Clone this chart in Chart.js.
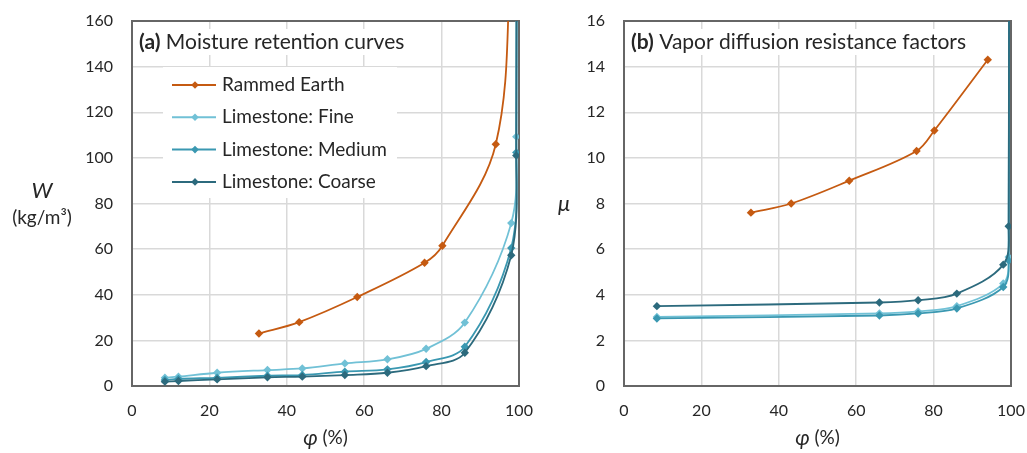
<!DOCTYPE html>
<html>
<head>
<meta charset="utf-8">
<script src="https://cdn.jsdelivr.net/npm/chart.js@4/dist/chart.umd.min.js"></script>
<style>
  html, body { margin: 0; padding: 0; background: #fff; overflow: hidden; }
  #wrap { position: relative; width: 1027px; height: 453px; }
  #chartA { position: absolute; left: 0; top: 0; }
  #chartB { position: absolute; left: 545px; top: 0; }
</style>
</head>
<body>
<div id="wrap">
  <canvas id="chartA" width="545" height="453"></canvas>
  <canvas id="chartB" width="482" height="453"></canvas>
</div>
<script>
// series names + colours
const seriesNames = ['Rammed Earth', 'Limestone: Fine', 'Limestone: Medium', 'Limestone: Coarse'];
const seriesColors = ['#C55A11', '#71C1D6', '#3A98B1', '#2C6A7D'];

// tick labels
const phiTicks = [0, 20, 40, 60, 80, 100];
const wTicks = [0, 20, 40, 60, 80, 100, 120, 140, 160];
const muTicks = [0, 2, 4, 6, 8, 10, 12, 14, 16];

// (a) moisture retention: phi (%) -> W (kg/m3)
// last values run off the top of the plot (clipped)
const earthPhiA = [32.8, 43.2, 58.2, 75.6, 80.2, 94.0, 98.0];
const earthW    = [23.0, 28.0, 39.0, 54.0, 61.5, 106, 190];
const limePhiA  = [8.5, 12, 22, 35, 44, 55, 66, 76, 86, 98, 99.3, 100];
const fineW     = [3.6, 4.1, 5.8, 7.0, 7.7, 9.9, 11.7, 16.3, 27.8, 71.4, 109.3, 1000];
const mediumW   = [2.6, 3.1, 3.6, 4.5, 4.8, 6.3, 7.3, 10.5, 17.2, 60.5, 102.4, 1000];
const coarseW   = [1.9, 2.2, 2.9, 3.8, 4.1, 4.8, 5.8, 8.7, 14.6, 57.3, 101.0, 1000];

// (b) vapor diffusion resistance factor: phi (%) -> mu
const earthPhiB = [32.8, 43.2, 58.2, 75.6, 80.2, 94.0];
const earthMu   = [7.6, 8.0, 9.0, 10.3, 11.2, 14.3];
const limePhiB  = [8.5, 66, 76, 86, 98, 99.4, 100];
const fineMu    = [3.03, 3.18, 3.27, 3.50, 4.49, 5.65, 100];
const mediumMu  = [2.96, 3.09, 3.18, 3.40, 4.34, 5.50, 100];
const coarseMu  = [3.50, 3.66, 3.76, 4.05, 5.32, 7.00, 100];

const FONT = 'Lato, "Open Sans", sans-serif';
const INK = '#262626';
Chart.defaults.font.family = FONT;
Chart.defaults.color = INK;

function pts(xs, ys) {
  return xs.map((x, i) => ({ x: x, y: ys[i] }));
}

function ds(idx, xs, ys) {
  return {
    label: seriesNames[idx],
    data: pts(xs, ys),
    borderColor: seriesColors[idx],
    backgroundColor: seriesColors[idx],
    borderWidth: 1.8,
    pointStyle: 'rectRot',
    pointRadius: 4.2,
    pointBorderWidth: 0,
    showLine: true,
    tension: 0.35,
    order: 3 - idx
  };
}

function diamond(ctx, x, y, r, color) {
  ctx.fillStyle = color;
  ctx.beginPath();
  ctx.moveTo(x, y - r);
  ctx.lineTo(x + r, y);
  ctx.lineTo(x, y + r);
  ctx.lineTo(x - r, y);
  ctx.closePath();
  ctx.fill();
}

// frame, in-plot title box and legend box, axis titles
const decorPlugin = {
  id: 'decor',
  beforeDatasetsDraw(chart, args, o) {
    const ctx = chart.ctx, a = chart.chartArea;
    ctx.save();
    ctx.strokeStyle = '#666';
    ctx.lineWidth = 2;
    ctx.strokeRect(a.left, a.top, a.right - a.left, a.bottom - a.top);

    // title
    const tx = a.left + 7, ty = a.top + 21;
    ctx.font = 'bold 21px ' + FONT;
    const wb = ctx.measureText(o.tag).width;
    ctx.font = '21px ' + FONT;
    const wr = ctx.measureText(' ' + o.title).width;
    ctx.fillStyle = '#fff';
    ctx.fillRect(tx - 3, ty - 13, wb + wr + 6, 26);
    ctx.fillStyle = INK;
    ctx.textBaseline = 'middle';
    ctx.textAlign = 'left';
    ctx.font = 'bold 21px ' + FONT;
    ctx.fillText(o.tag, tx, ty);
    ctx.font = '21px ' + FONT;
    ctx.fillText(' ' + o.title, tx + wb, ty);

    if (o.legend) {
      const lx = a.left + 31, ly = a.top + 46;
      ctx.fillStyle = '#fff';
      ctx.fillRect(lx, ly, 234, 131);
      chart.data.datasets.forEach((d, i) => {
        const y = a.top + 64 + i * 32.3;
        ctx.strokeStyle = d.borderColor;
        ctx.lineWidth = 2;
        ctx.beginPath();
        ctx.moveTo(a.left + 40, y);
        ctx.lineTo(a.left + 84, y);
        ctx.stroke();
        diamond(ctx, a.left + 63, y, 3.8, d.borderColor);
        ctx.fillStyle = INK;
        ctx.font = '19px ' + FONT;
        ctx.fillText(d.label, a.left + 90, y);
      });
    }
    ctx.restore();
  },
  afterDraw(chart, args, o) {
    const ctx = chart.ctx, a = chart.chartArea;
    ctx.save();
    ctx.fillStyle = INK;
    ctx.textBaseline = 'middle';
    // x title: italic phi + (%)
    ctx.font = 'italic 21px ' + FONT;
    const wPhi = ctx.measureText('φ').width;
    ctx.font = '19px ' + FONT;
    const wPct = ctx.measureText(' (%)').width;
    let x0 = (a.left + a.right) / 2 - (wPhi + wPct) / 2;
    ctx.textAlign = 'left';
    ctx.font = 'italic 21px ' + FONT;
    ctx.fillText('φ', x0, 438);
    ctx.font = '19px ' + FONT;
    ctx.fillText(' (%)', x0 + wPhi, 438);
    // y title
    ctx.textAlign = 'center';
    ctx.font = 'italic 22px ' + FONT;
    ctx.fillText(o.yName, o.yX, o.yY);
    if (o.yUnit) {
      ctx.font = '19px ' + FONT;
      ctx.fillText(o.yUnit, o.yX, o.yY + 27);
    }
    ctx.restore();
  }
};

function axes(yTicks, yWidth) {
  const tickFont = { size: 16 };
  return {
    x: {
      type: 'linear', min: 0, max: 100,
      afterBuildTicks: s => { s.ticks = phiTicks.map(v => ({ value: v })); },
      ticks: { padding: 15, font: tickFont, color: INK },
      grid: { color: '#d9d9d9', lineWidth: 1.5, drawTicks: false },
      border: { display: false },
      afterFit: s => { s.height = 67; s.paddingLeft = 0; s.paddingRight = 0; }
    },
    y: {
      type: 'linear', min: 0, max: yTicks[yTicks.length - 1],
      afterBuildTicks: s => { s.ticks = yTicks.map(v => ({ value: v })); },
      ticks: { padding: 19, font: tickFont, color: INK },
      grid: { color: '#d9d9d9', lineWidth: 1.5, drawTicks: false },
      border: { display: false },
      afterFit: s => { s.width = yWidth; s.paddingTop = 0; s.paddingBottom = 0; }
    }
  };
}

new Chart(document.getElementById('chartA'), {
  type: 'scatter',
  data: {
    datasets: [
      ds(0, earthPhiA, earthW),
      ds(1, limePhiA, fineW),
      ds(2, limePhiA, mediumW),
      ds(3, limePhiA, coarseW)
    ]
  },
  options: {
    responsive: false,
    animation: false,
    layout: { padding: { top: 21, right: 26, bottom: 0, left: 0 } },
    scales: axes(wTicks, 132),
    plugins: {
      legend: { display: false },
      tooltip: { enabled: false },
      decor: { tag: '(a)', title: 'Moisture retention curves', legend: true,
               yName: 'W', yUnit: '(kg/m³)', yX: 42, yY: 191 }
    }
  },
  plugins: [decorPlugin]
});

new Chart(document.getElementById('chartB'), {
  type: 'scatter',
  data: {
    datasets: [
      ds(0, earthPhiB, earthMu),
      ds(1, limePhiB, fineMu),
      ds(2, limePhiB, mediumMu),
      ds(3, limePhiB, coarseMu)
    ]
  },
  options: {
    responsive: false,
    animation: false,
    layout: { padding: { top: 21, right: 16, bottom: 0, left: 0 } },
    scales: axes(muTicks, 79),
    plugins: {
      legend: { display: false },
      tooltip: { enabled: false },
      decor: { tag: '(b)', title: 'Vapor diffusion resistance factors', legend: false,
               yName: 'μ', yUnit: '', yX: 19, yY: 204 }
    }
  },
  plugins: [decorPlugin]
});
</script>
</body>
</html>
